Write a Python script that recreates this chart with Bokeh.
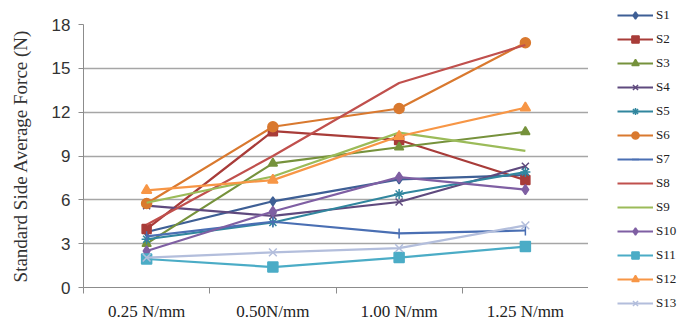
from bokeh.plotting import figure
from bokeh.layouts import row
from bokeh.models import Range1d, FixedTicker, Legend, LegendItem
from bokeh.embed import file_html
from bokeh.resources import INLINE

categories = ["0.25 N/mm", "0.50N/mm", "1.00 N/mm", "1.25 N/mm"]
series_names = ["S1", "S2", "S3", "S4", "S5", "S6", "S7", "S8", "S9", "S10", "S11", "S12", "S13"]
S1 = [3.8, 5.9, 7.4, 7.7]
S2 = [4.0, 10.7, 10.1, 7.35]
S3 = [3.0, 8.5, 9.6, 10.65]
S4 = [5.6, 4.9, 5.85, 8.3]
S5 = [3.3, 4.45, 6.4, 7.9]
S6 = [5.75, 11.0, 12.25, 16.75]
S7 = [3.5, 4.5, 3.7, 3.9]
S8 = [4.3, 9.0, 14.0, 16.6]
S9 = [5.8, 7.6, 10.6, 9.35]
S10 = [2.5, 5.2, 7.55, 6.7]
S11 = [1.95, 1.4, 2.05, 2.8]
S12 = [6.65, 7.35, 10.35, 12.3]
S13 = [2.05, 2.4, 2.7, 4.25]
y_ticks = [0, 3, 6, 9, 12, 15, 18]

values = [S1, S2, S3, S4, S5, S6, S7, S8, S9, S10, S11, S12, S13]
colors = ["#3E5F95", "#A83C39", "#76923C", "#5F4A7E", "#31869E", "#D9792F",
          "#4A6FB3", "#C0504D", "#9BBB59", "#7F5FA3", "#4BACC6", "#F79646", "#B3BEDC"]
markers = ["diamond", "square", "triangle", "x", "asterisk", "circle",
           "dash", None, None, "diamond", "square", "triangle", "x"]
msizes = [9, 9, 9, 10, 10, 10, 10, 0, 0, 10, 10, 10, 11]

p = figure(width=588, height=324, output_backend="svg", toolbar_location=None,
           x_range=Range1d(0, 4), y_range=Range1d(0, 18),
           min_border_left=83, min_border_right=0, min_border_top=24, min_border_bottom=37,
           background_fill_color="white", border_fill_color="white")
p.outline_line_color = None

# legend-only companion figure (its ranges keep the series out of view)
lg = figure(width=98, height=324, output_backend="svg", toolbar_location=None,
            x_range=Range1d(100, 101), y_range=Range1d(100, 101),
            min_border=0, background_fill_color="white", border_fill_color="white")
lg.outline_line_color = None
lg.axis.visible = False
lg.grid.visible = False

unaligned = "frame_align" in lg.properties()
if unaligned:
    lg.frame_align = False
    p.frame_align = False


def draw(fig, xs, vals, col, mk, ms):
    rs = [fig.line(xs, vals, line_color=col, line_width=2.2)]
    if mk is not None:
        if mk == "dash":
            rs.append(fig.scatter(xs, vals, marker="dash", angle=1.5708, size=ms,
                                  line_color=col, line_width=1.5))
        else:
            rs.append(fig.scatter(xs, vals, marker=mk, size=ms, fill_color=col,
                                  line_color=col, line_width=1.5))
    return rs


xs = [i + 0.5 for i in range(len(categories))]
items = []
for name, vals, col, mk, ms in zip(series_names, values, colors, markers, msizes):
    draw(p, xs, vals, col, mk, ms)
    rs = draw(lg, xs, vals, col, mk, ms)
    items.append(LegendItem(label=name, renderers=rs))

p.xaxis.ticker = FixedTicker(ticks=xs, minor_ticks=[0, 1, 2, 3, 4])
p.xaxis.major_label_overrides = {x: c for x, c in zip(xs, categories)}
p.xaxis.major_tick_out = 0
p.xaxis.major_tick_in = 0
p.xaxis.minor_tick_out = 6
p.xaxis.minor_tick_in = 0
p.xaxis.minor_tick_line_color = "#8C8C8C"
p.xaxis.axis_line_color = "#8C8C8C"
p.xaxis.major_label_text_font = "Liberation Serif"
p.xaxis.major_label_text_font_size = "17px"
p.xaxis.major_label_text_color = "#222222"
p.xaxis.major_label_standoff = 8
p.xgrid.visible = False

p.yaxis.ticker = FixedTicker(ticks=y_ticks)
p.yaxis.minor_tick_line_color = None
p.yaxis.major_tick_out = 5
p.yaxis.major_tick_in = 0
p.yaxis.major_tick_line_color = "#8C8C8C"
p.yaxis.axis_line_color = "#8C8C8C"
p.yaxis.major_label_text_font = "Liberation Sans"
p.yaxis.major_label_text_font_size = "17px"
p.yaxis.major_label_text_color = "#333333"
p.yaxis.major_label_standoff = 8
p.yaxis.axis_label = "Standard Side Average Force (N)"
p.yaxis.axis_label_text_font = "Liberation Serif"
p.yaxis.axis_label_text_font_style = "normal"
p.yaxis.axis_label_text_font_size = "19px"
p.yaxis.axis_label_text_color = "#333333"
p.yaxis.axis_label_standoff = 18
p.ygrid.grid_line_color = "#A6A6A6"
p.ygrid.grid_line_width = 1.5

legend = Legend(items=items, location=(29, 12) if unaligned else (29, -26),
                glyph_width=36, glyph_height=18,
                label_height=18, label_width=24, spacing=6, padding=0, margin=0,
                label_standoff=3,
                label_text_font="Liberation Serif", label_text_font_size="13px",
                label_text_color="#222222", border_line_color=None,
                background_fill_alpha=0)
lg.add_layout(legend, "center")

layout = row(p, lg)
open("out.html", "w").write(file_html(layout, INLINE))
